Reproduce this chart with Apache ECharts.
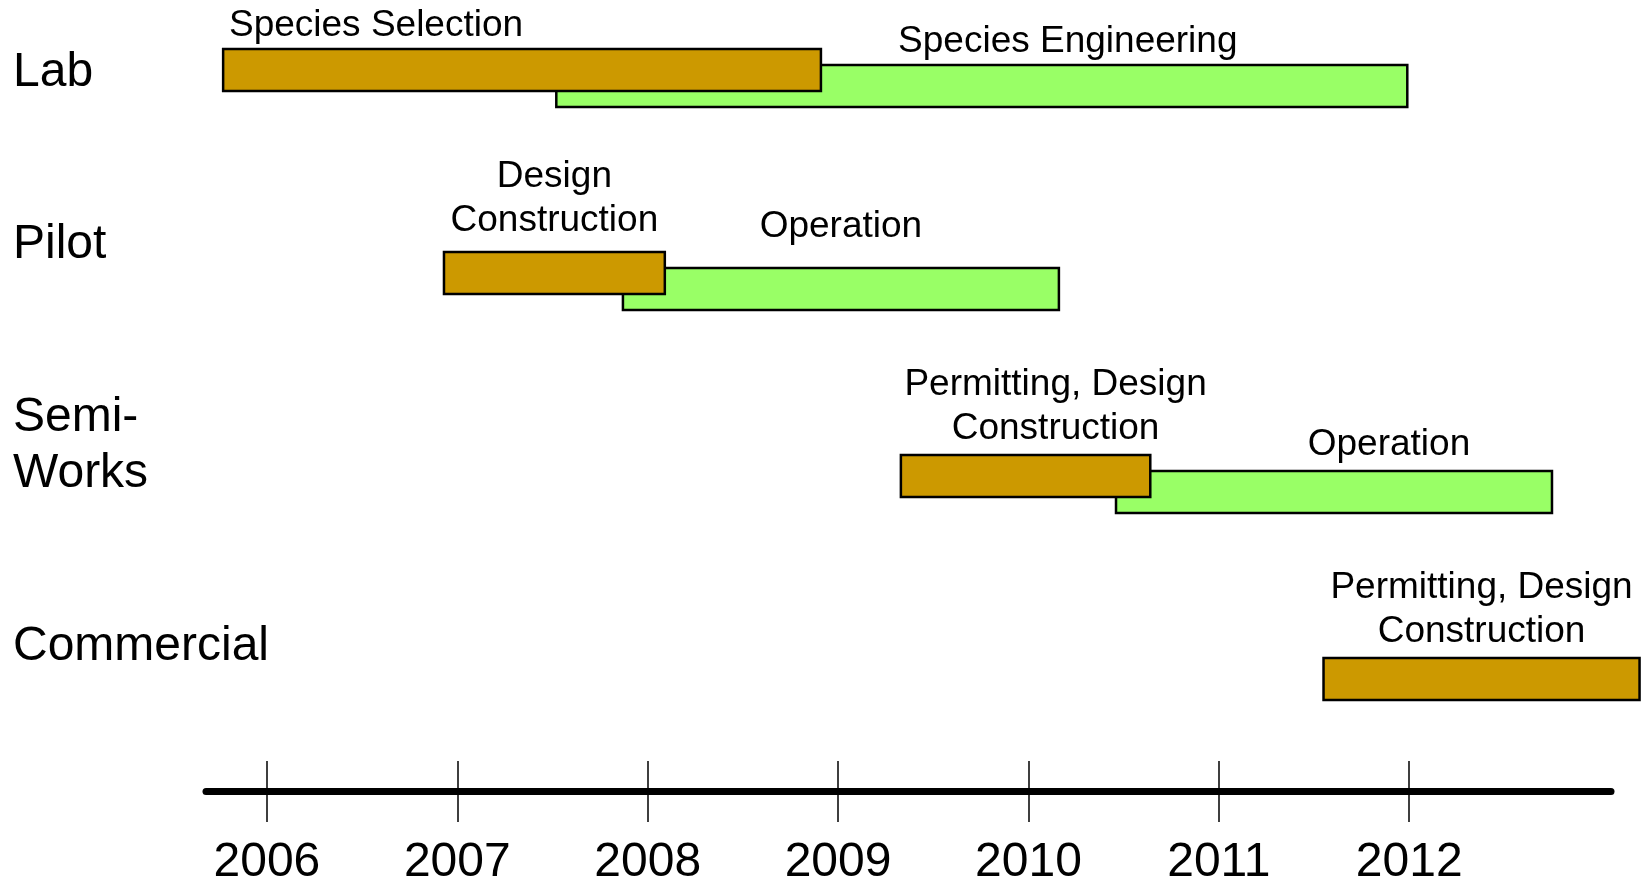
<!DOCTYPE html>
<html>
<head>
<meta charset="utf-8">
<title>Algae development timeline</title>
<script src="https://cdn.jsdelivr.net/npm/echarts@6/dist/echarts.min.js"></script>
<style>
    html, body { margin: 0; padding: 0; background: #fff; }
    #chart { width: 1641px; height: 882px; }
</style>
</head>
<body>
<div id="chart"></div>
<script>
// rows (top to bottom) and year ticks
const rows = ['Lab', 'Pilot', 'Semi-\nWorks', 'Commercial'];
const tickYears = [2006, 2007, 2008, 2009, 2010, 2011, 2012];

// gold bars: selection / design / construction phases
const prepNames = ['Species Selection', 'Design\nConstruction', 'Permitting, Design\nConstruction', 'Permitting, Design\nConstruction'];
const prepRow = [0, 1, 2, 3];
const prepStart = [2005.77, 2006.93, 2009.33, 2011.55];
const prepEnd = [2008.91, 2008.09, 2010.64, 2013.21];

// green bars: engineering / operation phases
const runNames = ['Species Engineering', 'Operation', 'Operation'];
const runRow = [0, 1, 2];
const runStart = [2007.52, 2007.87, 2010.46];
const runEnd = [2011.99, 2010.16, 2012.75];

const FONT = '"Liberation Sans", Arial, sans-serif';

// label nudges (px), just layout
const prepLabelShift = [-146, 0, 30, 0];
const prepLabelDy = [3, -5, 0, 0];
const runLabelShift = [86, 0, 55];
const runLabelDy = [3, -15, 0];
const rowLabelLift = [5, 36, 38, 40];

function makeRender(names, shifts, dys, color, offset) {
    return function (params, api) {
        const row = api.value(0);
        const p0 = api.coord([api.value(1), row]);
        const p1 = api.coord([api.value(2), row]);
        const h = 42;
        const y = p0[1] + offset - h / 2;
        return {
            type: 'group',
            children: [
                {
                    type: 'rect',
                    shape: { x: p0[0], y: y, width: p1[0] - p0[0], height: h },
                    style: { fill: color, stroke: '#000', lineWidth: 2.5 }
                },
                {
                    type: 'text',
                    x: (p0[0] + p1[0]) / 2 + shifts[params.dataIndex],
                    y: y - 4 + dys[params.dataIndex],
                    style: {
                        text: names[params.dataIndex],
                        align: 'center',
                        verticalAlign: 'bottom',
                        fontFamily: FONT,
                        fontSize: 37,
                        lineHeight: 44,
                        fill: '#000'
                    }
                }
            ]
        };
    };
}

const prepData = prepRow.map((r, i) => [r, prepStart[i], prepEnd[i]]);
const runData = runRow.map((r, i) => [r, runStart[i], runEnd[i]]);

// rich styles for the row names; an invisible spacer line under each lifts it
const rowRich = { n: { fontFamily: FONT, fontSize: 48, lineHeight: 56, color: '#000' } };
rowLabelLift.forEach((lift, i) => {
    rowRich['g' + i] = { fontSize: 1, lineHeight: lift * 2 };
});

const chart = echarts.init(document.getElementById('chart'));

const xMin = 2005.68;
const xMax = 2013.06;

chart.setOption({
    animation: false,
    grid: {
        left: 206,
        right: 30,
        top: 78,
        bottom: 195,
        outerBoundsMode: 'none',
        containLabel: false
    },
    xAxis: [
        {
            type: 'value',
            min: xMin,
            max: xMax,
            position: 'bottom',
            offset: 104,
            axisLine: { show: true, onZero: false, lineStyle: { color: '#000', width: 7 } },
            axisTick: {
                show: true,
                customValues: tickYears,
                length: 31,
                lineStyle: { color: '#000', width: 1.5 }
            },
            axisLabel: {
                customValues: tickYears,
                margin: 48,
                fontFamily: FONT,
                fontSize: 48,
                color: '#000',
                formatter: (v) => String(Math.round(v))
            },
            splitLine: { show: false }
        },
        {
            type: 'value',
            min: xMin,
            max: xMax,
            position: 'bottom',
            offset: 104,
            axisLine: { show: false, onZero: false },
            axisTick: {
                show: true,
                inside: true,
                customValues: tickYears,
                length: 30,
                lineStyle: { color: '#000', width: 1.5 }
            },
            axisLabel: { show: false },
            splitLine: { show: false }
        }
    ],
    yAxis: {
        type: 'category',
        inverse: true,
        boundaryGap: false,
        data: rows,
        axisLine: { show: false },
        axisTick: { show: false },
        splitLine: { show: false },
        axisLabel: {
            align: 'left',
            margin: 193,
            formatter: (value, index) => {
                const lines = value.split('\n').map((s) => '{n|' + s + '}');
                lines.push('{g' + index + '| }');
                return lines.join('\n');
            },
            rich: rowRich
        }
    },
    series: [
        {
            name: 'operation',
            type: 'custom',
            clip: false,
            encode: { x: [1, 2], y: 0 },
            renderItem: makeRender(runNames, runLabelShift, runLabelDy, '#99FF66', 8),
            data: runData
        },
        {
            name: 'construction',
            type: 'custom',
            clip: false,
            encode: { x: [1, 2], y: 0 },
            renderItem: makeRender(prepNames, prepLabelShift, prepLabelDy, '#CC9900', -8),
            data: prepData
        }
    ]
});
</script>
</body>
</html>
